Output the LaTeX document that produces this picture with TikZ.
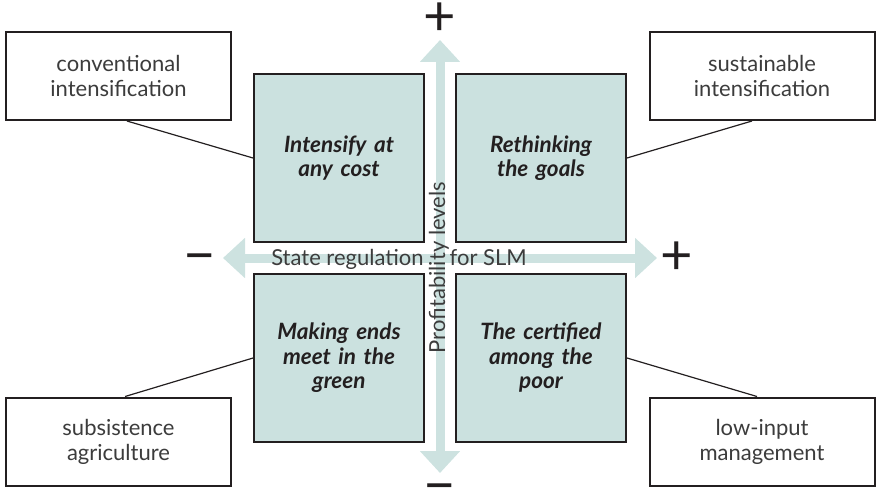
\documentclass[tikz,border=0pt]{standalone}
\usepackage{fontspec}
\setmainfont{Lato}
\usetikzlibrary{arrows.meta,calc}
\definecolor{quadfill}{RGB}{203,225,223}
\definecolor{axisfill}{RGB}{205,226,224}
\definecolor{ink}{RGB}{35,31,32}
\definecolor{labelink}{RGB}{60,60,60}

\begin{document}
\begin{tikzpicture}[x=1pt,y=-1pt,
  quad/.style={draw=ink, line width=2pt, fill=quadfill, minimum width=170pt,
    minimum height=168pt, inner sep=4pt, text width=160pt, align=center,
    font=\fontsize{22.5}{24.5}\selectfont\bfseries\itshape, text=ink},
  tag/.style={draw=ink, line width=2pt, fill=white, minimum width=225pt,
    minimum height=88pt, align=center, font=\fontsize{22}{25}\selectfont, text=labelink},
  axis/.style={draw=axisfill, line width=9pt,
    {Triangle[length=22pt,width=39pt]}-{Triangle[length=22pt,width=39pt]}},
  link/.style={draw=ink, line width=1.2pt},
  axislabel/.style={font=\fontsize{22}{24}\selectfont, text=labelink, inner sep=0pt},
  sign/.style={font=\fontsize{56}{56}\selectfont, text=ink, inner sep=0pt}
]
\useasboundingbox (0,0) rectangle (880,487);

% the two axes
\coordinate (vtop) at (440,40);
\coordinate (vbot) at (440,473);
\coordinate (hleft) at (223,258);
\coordinate (hright) at (657,258);
\draw[axis] (vbot) -- (vtop);
\draw[axis] (hleft) -- (hright);

% axis ends
\node[sign] (ptop) at (440,19) {+};
\node[sign] (pright) at (677,258) {+};
\node[sign] (mleft) at (200,258) {\vphantom{+}−};
\node[sign] (mbot) at (440,488) {\vphantom{+}−};

% quadrants
\node[quad] (q1) at (339,158) {Intensify at\\any cost};
\node[quad] (q2) at (541,158) {Rethinking\\the goals};
\node[quad] (q3) at (339,358) {Making ends\\meet in the\\green};
\node[quad] (q4) at (541,358) {The certified\\among the\\poor};

% corner tags
\node[tag] (t1) at (118.5,76) {conventional\\intensification};
\node[tag] (t2) at (762,76) {sustainable\\intensification};
\node[tag] (t3) at (118.5,441.5) {subsistence\\agriculture};
\node[tag] (t4) at (762,441.5) {low-input\\management};

% tag connectors
\draw[link] ($(t1.south west)!0.537!(t1.south east)$) -- (q1.west);
\draw[link] ($(t2.south west)!0.456!(t2.south east)$) -- (q2.east);
\draw[link] ($(t3.north west)!0.529!(t3.north east)$) -- (q3.west);
\draw[link] ($(t4.north west)!0.478!(t4.north east)$) -- (q4.east);

% axis titles
\node[axislabel, anchor=base] (hlabel) at (399,265) {State regulation\hspace{26pt}for SLM};
\node[axislabel, anchor=base, rotate=90] (vlabel) at (445,267.5) {Profitability levels};
\end{tikzpicture}
\end{document}
